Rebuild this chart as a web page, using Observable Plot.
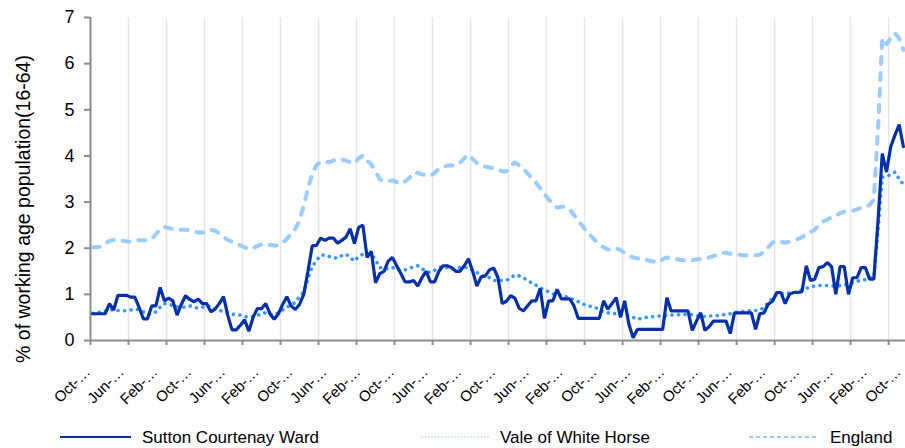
<!DOCTYPE html>
<html>
<head>
<meta charset="utf-8">
<script src="https://cdn.jsdelivr.net/npm/d3@7"></script>
<script src="https://cdn.jsdelivr.net/npm/@observablehq/plot@0.6"></script>
<style>
  html, body { margin: 0; padding: 0; background: #fff; }
  #wrap { position: relative; width: 905px; height: 448px; font-family: Arial, "Liberation Sans", sans-serif; }
  #legend { position: absolute; left: 0; top: 423px; }
</style>
</head>
<body>
<div id="wrap"></div>
<script>
// Categories: monthly, starting Oct 2004 (193 months to Oct 2020)
const startYear = 2004;
const startMonth = 9; // October (0-based)
const monthNames = ["Jan","Feb","Mar","Apr","May","Jun","Jul","Aug","Sep","Oct","Nov","Dec"];
const nMonths = 193;
const categories = d3.range(nMonths).map(i => {
  const m = startMonth + i;
  return monthNames[m % 12] + "-" + String((startYear + Math.floor(m / 12)) % 100).padStart(2, "0");
});

// Series values (% of working age population 16-64)
const sutton = [
  0.58,0.58,0.58,0.58,0.8,0.66,0.98,0.98,0.98,0.94,
  0.94,0.72,0.47,0.47,0.75,0.75,1.15,0.86,0.92,0.86,
  0.55,0.78,0.97,0.89,0.84,0.9,0.8,0.8,0.62,0.68,
  0.8,0.95,0.55,0.23,0.23,0.33,0.45,0.2,0.5,0.69,
  0.69,0.8,0.58,0.46,0.58,0.78,0.95,0.75,0.67,0.78,
  1.0,1.5,2.05,2.06,2.22,2.17,2.22,2.22,2.11,2.17,
  2.24,2.42,2.1,2.45,2.5,1.8,1.93,1.25,1.45,1.5,
  1.72,1.8,1.62,1.45,1.27,1.27,1.3,1.18,1.36,1.5,
  1.27,1.27,1.5,1.62,1.62,1.58,1.5,1.5,1.62,1.77,
  1.5,1.18,1.38,1.4,1.53,1.57,1.36,0.8,0.85,0.97,
  0.92,0.7,0.64,0.75,0.86,0.86,1.13,0.48,0.86,0.86,
  1.11,0.9,0.9,0.9,0.75,0.48,0.48,0.48,0.48,0.48,
  0.48,0.86,0.68,0.8,0.93,0.5,0.86,0.35,0.06,0.24,
  0.24,0.24,0.24,0.24,0.24,0.24,0.93,0.64,0.64,0.64,
  0.64,0.64,0.22,0.42,0.6,0.22,0.3,0.42,0.42,0.42,
  0.42,0.15,0.6,0.6,0.6,0.6,0.6,0.24,0.58,0.6,
  0.79,0.85,1.04,1.04,0.8,1.0,1.04,1.04,1.06,1.62,
  1.3,1.33,1.58,1.6,1.69,1.6,1.0,1.6,1.6,1.0,
  1.36,1.36,1.58,1.58,1.33,1.33,2.6,4.05,3.65,4.2,
  4.45,4.68,4.2
];
const vale = [
  0.59,0.6,0.62,0.64,0.67,0.66,0.65,0.64,0.65,0.66,
  0.68,0.67,0.62,0.58,0.57,0.62,0.72,0.8,0.78,0.76,
  0.73,0.71,0.73,0.75,0.72,0.7,0.72,0.76,0.72,0.68,
  0.65,0.63,0.6,0.57,0.56,0.55,0.52,0.5,0.52,0.54,
  0.58,0.6,0.57,0.56,0.6,0.66,0.72,0.78,0.82,0.95,
  1.05,1.35,1.6,1.73,1.85,1.85,1.82,1.8,1.78,1.84,
  1.87,1.8,1.72,1.82,1.87,1.87,1.87,1.75,1.58,1.56,
  1.55,1.58,1.55,1.51,1.53,1.56,1.6,1.62,1.55,1.51,
  1.47,1.52,1.58,1.6,1.58,1.55,1.56,1.58,1.58,1.58,
  1.52,1.48,1.4,1.38,1.36,1.3,1.3,1.3,1.3,1.36,
  1.42,1.4,1.36,1.3,1.25,1.2,1.14,1.1,1.05,1.01,
  1.0,0.98,0.95,0.92,0.88,0.84,0.8,0.75,0.74,0.72,
  0.66,0.62,0.6,0.59,0.58,0.57,0.55,0.53,0.5,0.46,
  0.48,0.5,0.51,0.52,0.53,0.54,0.55,0.55,0.55,0.56,
  0.56,0.57,0.56,0.54,0.52,0.52,0.53,0.53,0.54,0.55,
  0.57,0.58,0.6,0.62,0.63,0.64,0.65,0.65,0.66,0.72,
  0.82,0.92,0.99,1.01,1.02,1.03,1.04,1.06,1.1,1.13,
  1.16,1.18,1.19,1.2,1.19,1.18,1.18,1.19,1.2,1.22,
  1.25,1.28,1.31,1.32,1.34,1.37,2.4,3.54,3.55,3.6,
  3.65,3.5,3.38
];
const england = [
  2.02,2.02,2.04,2.1,2.16,2.18,2.18,2.16,2.15,2.14,
  2.17,2.17,2.17,2.18,2.2,2.3,2.42,2.46,2.44,2.41,
  2.4,2.4,2.4,2.39,2.36,2.34,2.34,2.35,2.4,2.38,
  2.32,2.25,2.18,2.14,2.1,2.06,2.02,1.98,2.0,2.05,
  2.08,2.08,2.07,2.06,2.06,2.12,2.2,2.32,2.42,2.6,
  2.92,3.3,3.6,3.8,3.87,3.88,3.86,3.9,3.93,3.92,
  3.9,3.86,3.84,3.95,4.01,3.9,3.82,3.66,3.5,3.45,
  3.46,3.47,3.43,3.4,3.45,3.52,3.64,3.63,3.6,3.58,
  3.57,3.63,3.72,3.76,3.79,3.79,3.8,3.85,3.95,4.03,
  3.93,3.85,3.8,3.77,3.75,3.73,3.71,3.67,3.66,3.78,
  3.86,3.8,3.72,3.62,3.52,3.42,3.3,3.17,3.06,2.96,
  2.88,2.9,2.9,2.84,2.72,2.6,2.48,2.36,2.27,2.17,
  2.08,2.02,1.97,1.98,2.0,1.96,1.9,1.85,1.8,1.78,
  1.76,1.75,1.73,1.71,1.69,1.76,1.8,1.78,1.77,1.75,
  1.74,1.73,1.74,1.76,1.76,1.77,1.8,1.83,1.86,1.9,
  1.9,1.88,1.87,1.86,1.85,1.85,1.85,1.85,1.86,1.92,
  2.02,2.12,2.16,2.14,2.12,2.14,2.16,2.2,2.24,2.3,
  2.35,2.4,2.5,2.58,2.62,2.67,2.7,2.76,2.79,2.8,
  2.81,2.84,2.88,2.9,2.94,3.05,4.6,6.55,6.42,6.55,
  6.66,6.55,6.3
];

const seriesNames = ["Sutton Courtenay Ward", "Vale of White Horse", "England"];
const yTicks = [0, 1, 2, 3, 4, 5, 6, 7];
const yTitle = "% of working age population(16-64)";
const xLabelEvery = 8;   // a label every 8 months
const xGridEvery = 9;    // a tick / gridline every 9 months

const rows = (vals, name) => vals.map((v, i) => ({i, cat: categories[i], v, name}));
const dSutton = rows(sutton, seriesNames[0]);
const dVale = rows(vale, seriesNames[1]);
const dEngland = rows(england, seriesNames[2]);

const gridPos = d3.range(1, Math.floor(nMonths / xGridEvery) + 1).map(k => k * xGridEvery - 0.5);
const tickPos = d3.range(0, Math.floor(nMonths / xGridEvery) + 1).map(k => k * xGridEvery - 0.5);
const labelIdx = d3.range(0, nMonths, xLabelEvery);
const labelText = i => categories[i].slice(0, 3) + "-\u2026";

const FONT = 'Arial, "Liberation Sans", sans-serif';
const AXIS = "#8c8c8c";

const chart = Plot.plot({
  width: 905,
  height: 415,
  marginLeft: 90,
  marginRight: 0,
  marginTop: 17,
  marginBottom: 75,
  style: {fontFamily: FONT, background: "#fff", color: "#000", overflow: "visible"},
  x: {type: "linear", domain: [-0.5, nMonths - 0.5], axis: null},
  y: {domain: [0, 7], axis: null},
  marks: [
    Plot.ruleX(gridPos, {stroke: "#e6e6e6", strokeWidth: 1.5}),
    Plot.axisY({ticks: yTicks, tickSize: 6, tickPadding: 10, tickFormat: d => String(d), fontSize: 18, stroke: AXIS, strokeWidth: 2, fill: "#000", label: null}),
    Plot.axisX({ticks: tickPos, tickSize: 5, tickFormat: () => "", stroke: AXIS, strokeWidth: 2, label: null}),
    Plot.axisX({ticks: labelIdx, tickSize: 0, tickPadding: 29, dx: -5, tickRotate: -45, tickFormat: labelText, fontSize: 15, fill: "#000", label: null}),
    Plot.ruleX([-0.5], {y1: 0, y2: 7, stroke: AXIS, strokeWidth: 2}),
    Plot.ruleY([0], {stroke: AXIS, strokeWidth: 2}),
    Plot.text([yTitle], {frameAnchor: "left", textAnchor: "middle", rotate: -90, dx: -67, dy: 30, fontSize: 19.5, fill: "#000"}),
    Plot.line(dEngland, {x: "i", y: "v", stroke: "#99ccff", strokeWidth: 4, strokeDasharray: "7,9", strokeLinecap: "round", strokeLinejoin: "round"}),
    Plot.line(dVale, {x: "i", y: "v", stroke: "#3399ff", strokeWidth: 3.6, strokeDasharray: "0.1,6.4", strokeLinecap: "round", strokeLinejoin: "round"}),
    Plot.line(dSutton, {x: "i", y: "v", stroke: "#0530ab", strokeWidth: 3.2, strokeLinejoin: "miter"})
  ]
});

const wrap = document.getElementById("wrap");
wrap.appendChild(chart);

// Legend (below the chart)
const legendItems = [
  {name: seriesNames[0], x1: 60, x2: 131, tx: 142, stroke: "#0530ab", w: 2.2, dash: null, cap: "butt"},
  {name: seriesNames[1], x1: 422, x2: 489, tx: 500, stroke: "#a9d3fb", w: 1.6, dash: "0.1,3.2", cap: "round"},
  {name: seriesNames[2], x1: 749, x2: 818, tx: 830, stroke: "#99ccff", w: 2.2, dash: "4,3", cap: "butt"}
];
const ns = "http://www.w3.org/2000/svg";
const lg = document.createElementNS(ns, "svg");
lg.setAttribute("id", "legend");
lg.setAttribute("width", 905);
lg.setAttribute("height", 25);
lg.style.fontFamily = FONT;
for (const it of legendItems) {
  const ln = document.createElementNS(ns, "line");
  ln.setAttribute("x1", it.x1); ln.setAttribute("x2", it.x2);
  ln.setAttribute("y1", 14); ln.setAttribute("y2", 14);
  ln.setAttribute("stroke", it.stroke); ln.setAttribute("stroke-width", it.w);
  ln.setAttribute("stroke-linecap", it.cap);
  if (it.dash) ln.setAttribute("stroke-dasharray", it.dash);
  lg.appendChild(ln);
  const tx = document.createElementNS(ns, "text");
  tx.setAttribute("x", it.tx); tx.setAttribute("y", 20);
  tx.setAttribute("font-size", 17); tx.setAttribute("fill", "#000");
  tx.textContent = it.name;
  lg.appendChild(tx);
}
wrap.appendChild(lg);
</script>
</body>
</html>
